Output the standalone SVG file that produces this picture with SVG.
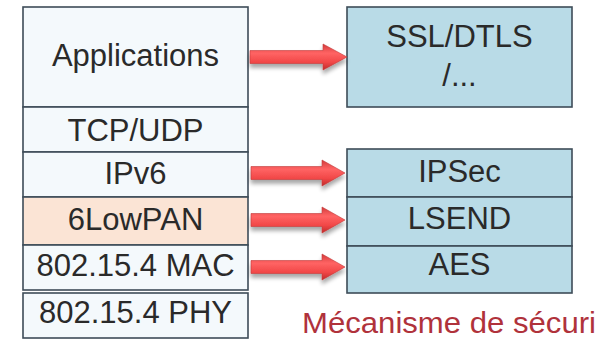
<svg xmlns="http://www.w3.org/2000/svg" width="599" height="344" viewBox="0 0 599 344">
  <style>
    .box { stroke: #3e4c58; stroke-width: 1.6; }
    .stack { fill: #f4f9fc; }
    .lowpan { fill: #fbe4d5; }
    .sec { fill: #b9dbe7; }
    .lbl { font-family: "Liberation Sans", Arial, sans-serif; font-size: 31px; fill: #2a2a2a; text-anchor: middle; }
    .caption { font-family: "Liberation Sans", Arial, sans-serif; font-size: 30px; fill: #b0323b; }
    .arrow { fill: url(#redGrad); stroke: #c23a3a; stroke-width: 0.6; filter: url(#shadow); }
  </style>
  <defs>
    <linearGradient id="redGrad" x1="0" y1="0" x2="0" y2="1">
      <stop offset="0" stop-color="#d23a3a"/>
      <stop offset="0.35" stop-color="#ff6464"/>
      <stop offset="0.7" stop-color="#f24848"/>
      <stop offset="1" stop-color="#c02a2a"/>
    </linearGradient>
    <filter id="shadow" x="-10%" y="-30%" width="120%" height="180%">
      <feGaussianBlur in="SourceAlpha" stdDeviation="2.2"/>
      <feOffset dx="0" dy="4" result="blur"/>
      <feComponentTransfer><feFuncA type="linear" slope="0.35"/></feComponentTransfer>
      <feMerge><feMergeNode/><feMergeNode in="SourceGraphic"/></feMerge>
    </filter>
  </defs>

  <rect width="599" height="344" fill="#ffffff"/>

  <!-- protocol stack -->
  <g id="applications">
    <rect class="box stack" x="23" y="7" width="225" height="100"/>
    <text class="lbl" x="135.5" y="66">Applications</text>
  </g>
  <g id="tcp-udp">
    <rect class="box stack" x="23" y="107" width="225" height="45"/>
    <text class="lbl" x="135.5" y="141">TCP/UDP</text>
  </g>
  <g id="ipv6">
    <rect class="box stack" x="23" y="152" width="225" height="45"/>
    <text class="lbl" x="135.5" y="184">IPv6</text>
  </g>
  <g id="6lowpan">
    <rect class="box lowpan" x="23" y="197" width="225" height="48"/>
    <text class="lbl" x="135.5" y="230">6LowPAN</text>
  </g>
  <g id="mac">
    <rect class="box stack" x="23" y="245" width="225" height="45"/>
    <text class="lbl" x="135.5" y="276">802.15.4 MAC</text>
  </g>
  <g id="phy">
    <rect class="box stack" x="23" y="293" width="225" height="45"/>
    <text class="lbl" x="135.5" y="323">802.15.4 PHY</text>
  </g>

  <!-- security mechanisms -->
  <g id="ssl-dtls">
    <rect class="box sec" x="347" y="7" width="225" height="100"/>
    <text class="lbl" x="459.5" y="47">SSL/DTLS</text>
    <text class="lbl" x="459.5" y="86">/...</text>
  </g>
  <g id="ipsec">
    <rect class="box sec" x="347" y="149" width="225" height="48"/>
    <text class="lbl" x="459.5" y="182">IPSec</text>
  </g>
  <g id="lsend">
    <rect class="box sec" x="347" y="197" width="225" height="49"/>
    <text class="lbl" x="459.5" y="229">LSEND</text>
  </g>
  <g id="aes">
    <rect class="box sec" x="347" y="246" width="225" height="47"/>
    <text class="lbl" x="459.5" y="275">AES</text>
  </g>

  <text id="caption" class="caption" x="302" y="333" textLength="294" lengthAdjust="spacingAndGlyphs">Mécanisme de sécuri</text>

  <!-- connectors -->
  <g id="connectors">
    <path class="arrow" d="M250 50.5 H323 V44 L347 57 L323 70 V63.5 H250 Z"/>
    <path class="arrow" d="M251 166.5 H322 V160 L345 173 L322 186 V179.5 H251 Z"/>
    <path class="arrow" d="M251 213.5 H322 V207 L345 220 L322 233 V226.5 H251 Z"/>
    <path class="arrow" d="M251 260.5 H322 V254 L345 267 L322 280 V273.5 H251 Z"/>
  </g>
</svg>
